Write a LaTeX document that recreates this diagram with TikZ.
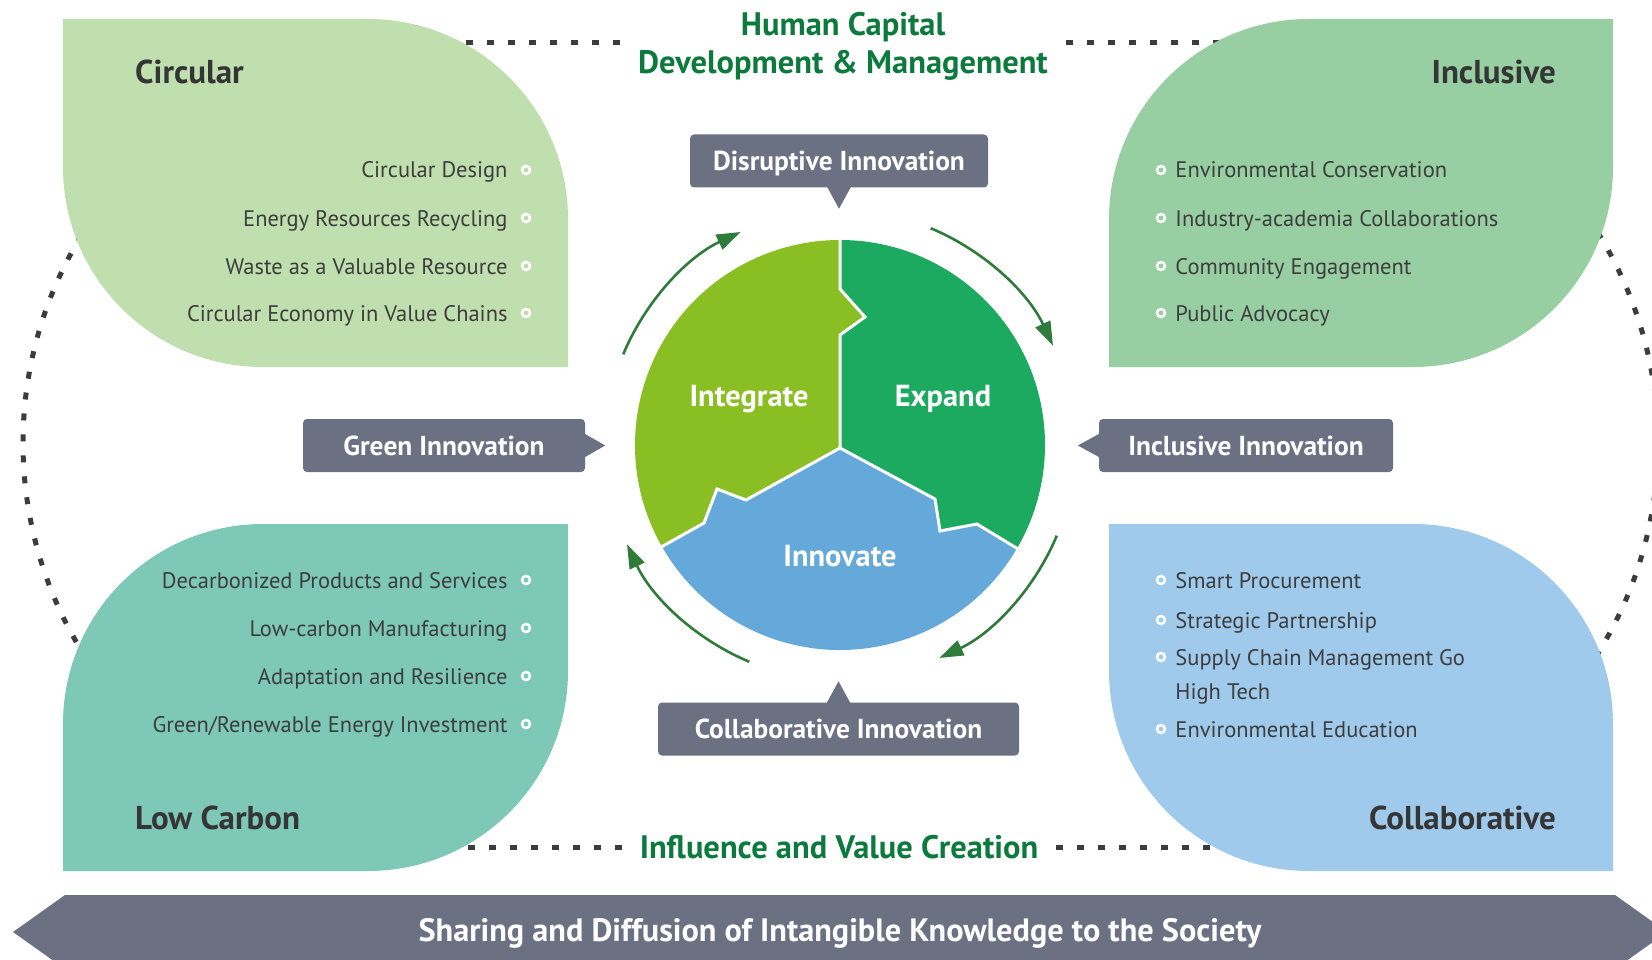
\documentclass[tikz,border=0pt]{standalone}
\usepackage{fontspec}
\setmainfont{PT Sans}
\usepackage{xcolor}
\usetikzlibrary{arrows.meta,positioning,calc}

\definecolor{leafcirc}{HTML}{BFDFAE}
\definecolor{leafincl}{HTML}{97CFA2}
\definecolor{leaflow}{HTML}{7DC8B6}
\definecolor{leafcoll}{HTML}{A0CAEB}
\definecolor{calloutgray}{HTML}{6B7083}
\definecolor{integgreen}{HTML}{8ABF24}
\definecolor{expandgreen}{HTML}{1BAA5F}
\definecolor{innovblue}{HTML}{65A9DB}
\definecolor{arrowgreen}{HTML}{2F7B3A}
\definecolor{titlegreen}{HTML}{0C7A3C}
\definecolor{darktext}{HTML}{353535}
\definecolor{itemtext}{HTML}{3D3D3D}
\definecolor{dotgray}{HTML}{3C3C3C}

\begin{document}
\begin{tikzpicture}[
  x=1pt, y=-1pt,
  heading/.style={font=\fontsize{33}{36}\selectfont\bfseries, text=darktext, inner sep=0pt, text height=23pt, text depth=0pt},
  item/.style={font=\fontsize{22.5}{26}\selectfont, text=itemtext, inner sep=0pt, text height=16pt, text depth=0pt},
  dot/.style={circle, draw=white, line width=2.5pt, inner sep=0pt, minimum size=8pt},
  callout/.style={rectangle, fill=calloutgray, rounded corners=4pt, minimum height=53pt, text=white, font=\fontsize{27.4}{30}\selectfont\bfseries, text height=19pt, text depth=0pt},
  piece/.style={text=white, font=\fontsize{30.4}{33}\selectfont\bfseries, text height=21pt, text depth=0pt},
  greentitle/.style={text=titlegreen, font=\fontsize{32.5}{38}\selectfont\bfseries, align=center, inner xsep=18pt},
  dotline/.style={draw=dotgray, line width=5pt, dash pattern=on 7pt off 14pt},
  cycarr/.style={draw=arrowgreen, line width=2.6pt, -{Triangle[length=24pt, width=16pt]}},
  sep/.style={draw=white, line width=3pt}
]
\useasboundingbox (0,0) rectangle (1652,960);
\clip (0,0) rectangle (1652,960);

% Frame: titles and dotted ring
\node[greentitle] (hcap) at (843,46) {Human Capital\\Development \& Management};
\node[greentitle, text height=23pt, text depth=0pt] (ivc) at (839,847) {Influence and Value Creation};
\draw[dotline] (hcap.west |- 0,43) -- (420,43);
\draw[dotline] (hcap.east |- 0,43) -- (1260,43);
\draw[dotline] (ivc.west) -- (420,847);
\draw[dotline] (ivc.east) -- (1260,847);
\draw[dotline] (421,443) ++(150:398) arc[start angle=150, end angle=215, radius=398];
\draw[dotline] (1260,443) ++(-35:398) arc[start angle=-35, end angle=35, radius=398];

% Four leaves
\fill[leafcirc] (63,19) -- (368,19) arc[start angle=-90, end angle=0, radius=200] -- (568,367) -- (263,367) arc[start angle=90, end angle=180, radius=200] -- cycle;
\fill[leafincl] (1309,19) -- (1613,19) -- (1613,167) arc[start angle=0, end angle=90, radius=200] -- (1109,367) -- (1109,219) arc[start angle=180, end angle=270, radius=200] -- cycle;
\fill[leaflow] (263,524) -- (568,524) -- (568,671) arc[start angle=0, end angle=90, radius=200] -- (63,871) -- (63,724) arc[start angle=180, end angle=270, radius=200] -- cycle;
\fill[leafcoll] (1109,524) -- (1413,524) arc[start angle=-90, end angle=0, radius=200] -- (1613,871) -- (1309,871) arc[start angle=90, end angle=180, radius=200] -- cycle;

% Leaf headings
\node[heading, anchor=west] (circT) at (135,72) {Circular};
\node[heading, anchor=east] (inclT) at (1556,72) {Inclusive};
\node[heading, anchor=west] (lowT) at (135,818) {Low Carbon};
\node[heading, anchor=east] (collT) at (1556,818) {Collaborative};

% Circular items
\node[dot] (circ1b) at (526,170) {};
\node[item, left=13pt of circ1b] (circ1) {Circular Design};
\node[dot] (circ2b) at (526,218) {};
\node[item, left=13pt of circ2b] (circ2) {Energy Resources Recycling};
\node[dot] (circ3b) at (526,266) {};
\node[item, left=13pt of circ3b] (circ3) {Waste as a Valuable Resource};
\node[dot] (circ4b) at (526,313) {};
\node[item, left=13pt of circ4b] (circ4) {Circular Economy in Value Chains};

% Inclusive items
\node[dot] (incl1b) at (1161,170) {};
\node[item, right=9pt of incl1b] (incl1) {Environmental Conservation};
\node[dot] (incl2b) at (1161,218) {};
\node[item, right=9pt of incl2b] (incl2) {Industry-academia Collaborations};
\node[dot] (incl3b) at (1161,266) {};
\node[item, right=9pt of incl3b] (incl3) {Community Engagement};
\node[dot] (incl4b) at (1161,313) {};
\node[item, right=9pt of incl4b] (incl4) {Public Advocacy};

% Low carbon items
\node[dot] (low1b) at (526,580) {};
\node[item, left=13pt of low1b] (low1) {Decarbonized Products and Services};
\node[dot] (low2b) at (526,628) {};
\node[item, left=13pt of low2b] (low2) {Low-carbon Manufacturing};
\node[dot] (low3b) at (526,676) {};
\node[item, left=13pt of low3b] (low3) {Adaptation and Resilience};
\node[dot] (low4b) at (526,724) {};
\node[item, left=13pt of low4b] (low4) {Green/Renewable Energy Investment};

% Collaborative items
\node[dot] (coll1b) at (1161,580) {};
\node[item, right=9pt of coll1b] (coll1) {Smart Procurement};
\node[dot] (coll2b) at (1161,620) {};
\node[item, right=9pt of coll2b] (coll2) {Strategic Partnership};
\node[dot] (coll3b) at (1161,657) {};
\node[item, right=9pt of coll3b] (coll3) {Supply Chain Management Go};
\node[item, anchor=west] (coll3x) at (coll3.west |- 0,691) {High Tech};
\node[dot] (coll4b) at (1161,729) {};
\node[item, right=9pt of coll4b] (coll4) {Environmental Education};

% Centre wheel
\coordinate (hub) at (840,445);
\fill[integgreen] (840,448) -- (746,500) -- (717,489) -- (704,523) -- ($(hub)+(150.3:205)$) arc[start angle=150.3, end angle=270, radius=205] -- (840,289) -- (865,317) -- (840,335) -- cycle;
\fill[expandgreen] ($(hub)+(-90:205)$) arc[start angle=-90, end angle=30.3, radius=205] -- (977,524) -- (940,531) -- (935,499) -- (840,448) -- (840,335) -- (865,317) -- (840,289) -- cycle;
\fill[innovblue] ($(hub)+(30.3:205)$) arc[start angle=30.3, end angle=150.3, radius=205] -- (704,523) -- (717,489) -- (746,500) -- (840,448) -- (935,499) -- (940,531) -- (977,524) -- cycle;
\draw[sep] ($(hub)+(-90:207)$) -- (840,289) -- (865,317) -- (840,335) -- (840,448);
\draw[sep] ($(hub)+(150.3:207)$) -- (704,523) -- (717,489) -- (746,500) -- (840,448) -- (935,499) -- (940,531) -- (977,524) -- ($(hub)+(30.3:207)$);
\node[piece] (integ) at (749,396) {Integrate};
\node[piece] (expand) at (943,396) {Expand};
\node[piece] (innov) at (840,556) {Innovate};

% Cycle arrows
\draw[cycarr] ($(hub)+(202.7:235)$) arc[start angle=202.7, end angle=245, radius=235];
\draw[cycarr] ($(hub)+(292.7:235)$) arc[start angle=292.7, end angle=335, radius=235];
\draw[cycarr] ($(hub)+(22.7:235)$) arc[start angle=22.7, end angle=65, radius=235];
\draw[cycarr] ($(hub)+(112.7:235)$) arc[start angle=112.7, end angle=155, radius=235];

% Callouts
\node[callout, minimum width=298pt] (disr) at (839,161) {Disruptive Innovation};
\fill[calloutgray] ([xshift=-12pt,yshift=1pt]disr.south) -- ([xshift=12pt,yshift=1pt]disr.south) -- ([yshift=-21pt]disr.south) -- cycle;
\node[callout, minimum width=282pt] (green) at (444,445.5) {Green Innovation};
\fill[calloutgray] ([xshift=-1pt,yshift=12pt]green.east) -- ([xshift=20pt]green.east) -- ([xshift=-1pt,yshift=-12pt]green.east) -- cycle;
\node[callout, minimum width=294pt] (inclin) at (1246,445.5) {Inclusive Innovation};
\fill[calloutgray] ([xshift=1pt,yshift=12pt]inclin.west) -- ([xshift=-21pt]inclin.west) -- ([xshift=1pt,yshift=-12pt]inclin.west) -- cycle;
\node[callout, minimum width=361pt] (collin) at (838.5,729) {Collaborative Innovation};
\fill[calloutgray] ([xshift=-12pt,yshift=-1pt]collin.north) -- ([yshift=21pt]collin.north) -- ([xshift=12pt,yshift=-1pt]collin.north) -- cycle;

% Bottom banner
\fill[calloutgray] (13,932) -- (65,895) -- (1615,895) -- (1667,932) -- (1615,969) -- (65,969) -- cycle;
\node[text=white, font=\fontsize{32.3}{36}\selectfont\bfseries, text height=22pt, text depth=0pt] (share) at (840,930) {Sharing and Diffusion of Intangible Knowledge to the Society};

\end{tikzpicture}
\end{document}
